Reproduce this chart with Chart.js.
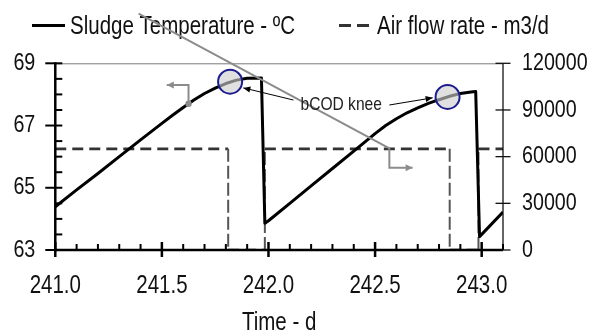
<!DOCTYPE html>
<html>
<head>
<meta charset="utf-8">
<script src="https://cdn.jsdelivr.net/npm/chart.js@4"></script>
<style>
  html, body { margin: 0; padding: 0; background: #fff; }
  canvas { display: block; }
</style>
</head>
<body>
<canvas id="chart" width="589" height="332"></canvas>
<script>
const FONT = "'Liberation Sans', Arial, sans-serif";
const TEXT = '#111';

// Narrow lettering: every canvas label is drawn compressed horizontally
const NARROW = 0.82;
const baseFillText = CanvasRenderingContext2D.prototype.fillText;
CanvasRenderingContext2D.prototype.fillText = function (text, x, y, maxWidth) {
  const w = this.measureText(text).width * NARROW;
  baseFillText.call(this, text, x, y, maxWidth === undefined ? w : Math.min(w, maxWidth));
};

// Sludge temperature (ºC) against time (d)
const tempDays = [241.0, 241.1, 241.2, 241.3, 241.4, 241.5, 241.55, 241.6, 241.65, 241.7, 241.75, 241.8, 241.85, 241.9, 241.967, 241.983,
                  242.0, 242.1, 242.2, 242.3, 242.4, 242.5, 242.55, 242.6, 242.65, 242.7, 242.75, 242.8, 242.85, 242.9, 242.95, 242.972, 242.99, 243.1];
const tempValues = [64.39, 64.93, 65.46, 66.0, 66.54, 67.07, 67.33, 67.58, 67.82, 68.03, 68.2, 68.35, 68.46, 68.52, 68.53, 63.86,
                    63.94, 64.5, 65.06, 65.62, 66.18, 66.74, 67.0, 67.22, 67.41, 67.57, 67.71, 67.83, 67.94, 68.03, 68.08, 68.09, 63.43, 64.22];

// Air flow rate (m3/d): on/off steps
const airDays = [241.0, 241.811, 241.811, 241.983, 241.983, 242.85, 242.85, 242.985, 242.985, 243.1];
const airValues = [65000, 65000, 0, 0, 65000, 65000, 0, 0, 65000, 65000];

const xTickValues = [241.0, 241.5, 242.0, 242.5, 243.0];
const tempTicks = [63, 65, 67, 69];
const airTicks = [0, 30000, 60000, 90000, 120000];

const seriesLabels = ['Sludge Temperature - ºC', 'Air flow rate - m3/d'];
const xTitle = 'Time - d';

// Knee markers and pointers, in (day, ºC)
const knees = [{ x: 241.82, y: 68.41 }, { x: 242.84, y: 67.92 }];
const kneeLabel = { text: 'bCOD knee', x: 242.341, y: 67.66 };
const kneeArrows = [
  { from: { x: 242.117, y: 67.82 }, to: { x: 241.882, y: 68.21 } },
  { from: { x: 242.567, y: 67.66 }, to: { x: 242.77, y: 67.89 } }
];
const leftPointer = [{ x: 241.625, y: 67.70 }, { x: 241.625, y: 68.30 }, { x: 241.523, y: 68.30 }];
const rightPointer = [{ x: 241.391, y: 70.60 }, { x: 242.567, y: 66.27 }, { x: 242.567, y: 65.64 }, { x: 242.676, y: 65.64 }];

function seg(ctx, x1, y1, x2, y2) {
  ctx.beginPath(); ctx.moveTo(x1, y1); ctx.lineTo(x2, y2); ctx.stroke();
}
function arrowHead(ctx, fx, fy, tx, ty, len, half) {
  const a = Math.atan2(ty - fy, tx - fx);
  ctx.beginPath();
  ctx.moveTo(tx, ty);
  ctx.lineTo(tx - len * Math.cos(a) + half * Math.sin(a), ty - len * Math.sin(a) - half * Math.cos(a));
  ctx.lineTo(tx - len * Math.cos(a) - half * Math.sin(a), ty - len * Math.sin(a) + half * Math.cos(a));
  ctx.closePath();
  ctx.fill();
}

// Axis lines with crossing major ticks and inward minor ticks
const axisFrame = {
  id: 'axisFrame',
  afterDatasetsDraw(chart) {
    const { ctx, chartArea: a, scales } = chart;
    const x = scales.x, yT = scales.yT, yA = scales.yA;
    ctx.save();
    ctx.lineCap = 'butt';
    ctx.strokeStyle = '#7a7a7a'; ctx.lineWidth = 1;
    seg(ctx, a.left, a.top + 0.5, a.right, a.top + 0.5);

    ctx.strokeStyle = '#111'; ctx.lineWidth = 1.3;
    seg(ctx, a.right, a.top, a.right, a.bottom);
    airTicks.forEach(v => { const p = yA.getPixelForValue(v); seg(ctx, a.right - 7.5, p, a.right + 7.5, p); });

    ctx.strokeStyle = '#000'; ctx.lineWidth = 2.5;
    seg(ctx, a.left, a.top - 1, a.left, a.bottom + 1.2);
    seg(ctx, a.left - 1.2, a.bottom, a.right, a.bottom);
    ctx.lineWidth = 2;
    for (let i = 0; i <= 12; i++) {
      const v = 63 + i * 0.5, p = yT.getPixelForValue(v);
      if (i % 4 === 0) seg(ctx, a.left - 10, p, a.left + 7, p);
      else seg(ctx, a.left, p, a.left + 7, p);
    }
    for (let i = 0; i <= 21; i++) {
      const v = 241 + i / 10, p = x.getPixelForValue(v);
      if (i % 5 === 0) { ctx.lineWidth = 2.5; seg(ctx, p, a.bottom - 8, p, a.bottom + 7); }
      else { ctx.lineWidth = 2; seg(ctx, p, a.bottom - 6, p, a.bottom); }
    }
    ctx.restore();
  }
};

// Legend row and knee annotations
const overlay = {
  id: 'overlay',
  afterDraw(chart) {
    const { ctx, scales } = chart;
    const x = scales.x, y = scales.yT;
    const P = pt => [x.getPixelForValue(pt.x), y.getPixelForValue(pt.y)];
    ctx.save();

    // legend
    ctx.font = '25px ' + FONT;
    ctx.fillStyle = TEXT; ctx.textBaseline = 'middle'; ctx.textAlign = 'left';
    ctx.strokeStyle = '#000'; ctx.lineWidth = 3;
    seg(ctx, 32, 25.5, 65, 25.5);
    ctx.fillText(seriesLabels[0], 70, 27);
    ctx.strokeStyle = '#333'; ctx.setLineDash([12, 6]);
    seg(ctx, 339, 25.5, 372, 25.5);
    ctx.setLineDash([]);
    ctx.fillText(seriesLabels[1], 377, 27);

    // gray pointers
    ctx.strokeStyle = '#8c8c8c'; ctx.fillStyle = '#8c8c8c'; ctx.lineWidth = 2;
    [leftPointer, rightPointer].forEach(path => {
      const pts = path.map(P);
      ctx.beginPath();
      pts.forEach((p, i) => i ? ctx.lineTo(p[0], p[1]) : ctx.moveTo(p[0], p[1]));
      ctx.stroke();
      const n = pts.length;
      arrowHead(ctx, pts[n - 2][0], pts[n - 2][1], pts[n - 1][0], pts[n - 1][1], 7, 3.5);
    });
    const d = P(leftPointer[0]);
    ctx.beginPath(); ctx.arc(d[0], d[1], 3.2, 0, Math.PI * 2); ctx.fill();

    // knee label and arrows
    ctx.font = '19px ' + FONT;
    ctx.fillStyle = '#222'; ctx.textAlign = 'center';
    const t = P(kneeLabel);
    ctx.fillText(kneeLabel.text, t[0], t[1]);
    ctx.strokeStyle = '#000'; ctx.fillStyle = '#000'; ctx.lineWidth = 1;
    kneeArrows.forEach(ar => {
      const f = P(ar.from), to = P(ar.to);
      seg(ctx, f[0], f[1], to[0], to[1]);
      arrowHead(ctx, f[0], f[1], to[0], to[1], 7, 3);
    });

    // knee circles
    knees.forEach(k => {
      const c = P(k);
      ctx.beginPath(); ctx.arc(c[0], c[1], 12, 0, Math.PI * 2);
      ctx.fillStyle = 'rgba(205,205,205,0.62)'; ctx.fill();
      ctx.strokeStyle = '#1c1c8f'; ctx.lineWidth = 2; ctx.stroke();
    });
    ctx.restore();
  }
};

const tickFont = size => ({ family: FONT, size: size, lineHeight: 1 });
// on/off switching edges of the air flow line are drawn lighter
const isSwitch = c => c.p0.parsed.x === c.p1.parsed.x;

new Chart(document.getElementById('chart'), {
  type: 'line',
  data: {
    datasets: [
      {
        label: seriesLabels[0],
        data: tempDays.map((d, i) => ({ x: d, y: tempValues[i] })),
        yAxisID: 'yT',
        borderColor: '#000', borderWidth: 3, pointRadius: 0, tension: 0,
        borderJoinStyle: 'round'
      },
      {
        label: seriesLabels[1],
        data: airDays.map((d, i) => ({ x: d, y: airValues[i] })),
        yAxisID: 'yA',
        borderColor: '#333', borderWidth: 2.7, borderDash: [11, 6], pointRadius: 0, tension: 0,
        segment: {
          borderColor: c => isSwitch(c) ? '#555' : undefined,
          borderWidth: c => isSwitch(c) ? 2 : undefined,
          borderDash: c => isSwitch(c) ? [13, 4] : undefined
        }
      }
    ]
  },
  options: {
    responsive: false,
    animation: false,
    devicePixelRatio: 1,
    layout: { padding: { top: 63.3, left: 0, right: 0, bottom: 0 } },
    plugins: { legend: { display: false }, tooltip: { enabled: false } },
    scales: {
      x: {
        type: 'linear', min: 241, max: 243.1,
        afterBuildTicks: s => { s.ticks = xTickValues.map(v => ({ value: v })); },
        afterFit: s => { s.height = 82; },
        ticks: { font: tickFont(25), color: TEXT, padding: 24, maxRotation: 0, autoSkip: false, callback: v => v.toFixed(1) },
        grid: { display: false, drawTicks: false },
        border: { display: false },
        title: { display: true, text: xTitle, color: TEXT, font: tickFont(25), padding: { top: 0, bottom: -4 } }
      },
      yT: {
        type: 'linear', position: 'left', min: 63, max: 69,
        afterBuildTicks: s => { s.ticks = tempTicks.map(v => ({ value: v })); },
        afterFit: s => { s.width = 53; },
        ticks: { font: tickFont(24), color: TEXT, padding: 20, callback: v => String(v) },
        grid: { display: false, drawTicks: false },
        border: { display: false }
      },
      yA: {
        type: 'linear', position: 'right', min: 0, max: 120000,
        afterBuildTicks: s => { s.ticks = airTicks.map(v => ({ value: v })); },
        afterFit: s => { s.width = 86; },
        ticks: { font: tickFont(24), color: TEXT, padding: 19, callback: v => String(v) },
        grid: { display: false, drawTicks: false },
        border: { display: false }
      }
    }
  },
  plugins: [axisFrame, overlay]
});
</script>
</body>
</html>
